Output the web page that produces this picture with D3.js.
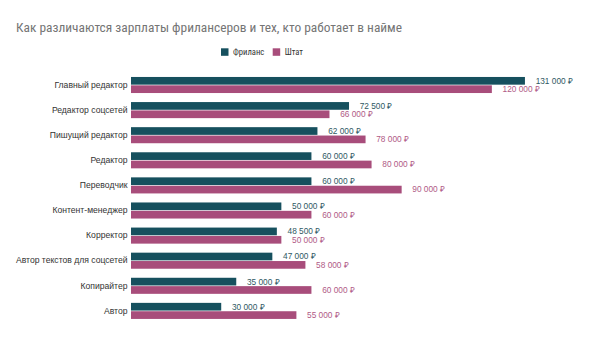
<!DOCTYPE html>
<html><head><meta charset="utf-8">
<script src="https://cdn.jsdelivr.net/npm/d3@7"></script>
<style>body{margin:0;background:#fff;}svg{display:block;font-family:"Liberation Sans",Arial,sans-serif;}</style>
</head><body>
<svg id="chart" width="600" height="360"></svg>
<script>
const categories = ["Главный редактор","Редактор соцсетей","Пишущий редактор","Редактор","Переводчик","Контент-менеджер","Корректор","Автор текстов для соцсетей","Копирайтер","Автор"];
const seriesNames = ["Фриланс","Штат"];
const freelance = [131000,72500,62000,60000,60000,50000,48500,47000,35000,30000];
const staff = [120000,66000,78000,80000,90000,60000,50000,58000,60000,55000];
const colors = ["#16505e","#a84d7b"];
const labelColors = ["#2f5863","#b05a86"];
const title = "Как различаются зарплаты фрилансеров и тех, кто работает в найме";

const svg = d3.select("#chart");
const x = d3.scaleLinear().domain([0,140000]).range([131, 131+421]);
const y = d3.scaleBand().domain(categories).range([72.45,323.45]).paddingInner(0.36).paddingOuter(0.18);
const ys = d3.scaleBand().domain(seriesNames).range([0,y.bandwidth()]).paddingInner(0.08);
const fmt = v => d3.format(",")(v).replace(/,/g," ") + " ₽";

svg.append("text").attr("x",16).attr("y",31.5).attr("font-size",13.4)
  .attr("font-family","'Liberation Sans Narrow','Roboto Condensed',sans-serif")
  .attr("fill","#757575").text(title);

// legend
const lg = svg.append("g");
const legendX = [221, 272.7];
seriesNames.forEach((s,i)=>{
  lg.append("rect").attr("x",legendX[i]).attr("y",48.3).attr("width",7.5).attr("height",7.5).attr("fill",colors[i]);
  lg.append("text").attr("x",legendX[i]+12).attr("y",55.3).attr("font-size",8.6)
    .attr("font-family","'Liberation Sans Narrow','Roboto Condensed',sans-serif")
    .attr("fill","#333").text(s);
});

// category axis
const axis = d3.axisLeft(y).tickSize(0).tickPadding(3.5);
const ag = svg.append("g").attr("transform","translate(131,0)").call(axis);
ag.select(".domain").remove();
ag.selectAll("text").attr("font-size",8.6).attr("fill","#333").attr("font-family",null);

const data = [freelance, staff];
data.forEach((vals,si)=>{
  const g = svg.append("g");
  g.selectAll("rect").data(categories).join("rect")
    .attr("x",x(0)).attr("y",(c)=>y(c)+ys(seriesNames[si]))
    .attr("width",(c,i)=>x(vals[i])-x(0)).attr("height",ys.bandwidth())
    .attr("fill",colors[si]);
  g.selectAll("text").data(categories).join("text")
    .attr("x",(c,i)=>x(vals[i])+10.7).attr("y",(c)=>y(c)+ys(seriesNames[si])+ys.bandwidth()/2)
    .attr("dy","0.35em").attr("font-size",8.3).attr("fill",labelColors[si])
    .text((c,i)=>fmt(vals[i]));
});
</script>
</body></html>
